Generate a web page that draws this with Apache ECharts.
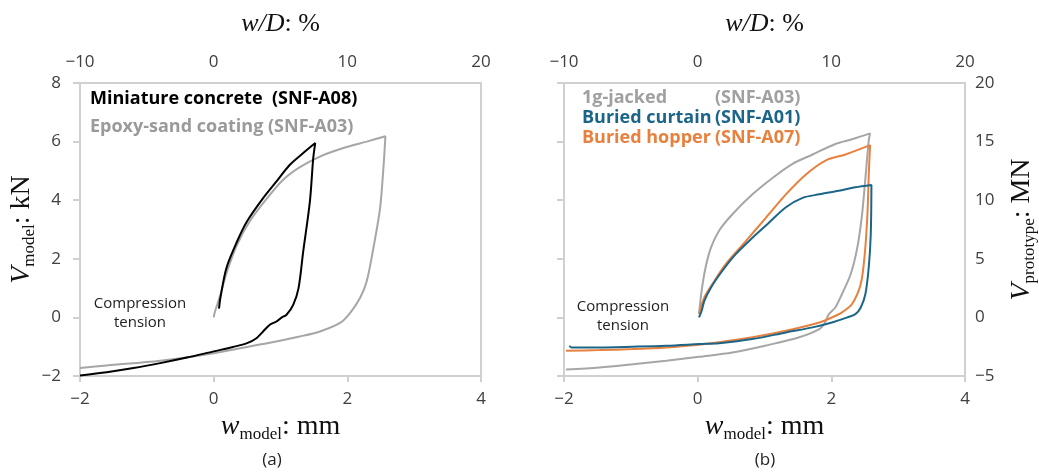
<!DOCTYPE html>
<html><head><meta charset="utf-8">
<script src="https://cdn.jsdelivr.net/npm/echarts@6/dist/echarts.min.js"></script>
<style>html,body{margin:0;padding:0;background:#fff}#c{width:1039px;height:475px}</style>
</head><body><div id="c"></div>
<script>
// Panel (a): w_model (mm), V_model (kN)
var aBlack = [[0.08,0.3],[0.1,0.66],[0.19,1.68],[0.35,2.59],[0.5,3.28],[0.74,4.07],[0.94,4.64],[1.14,5.21],[1.34,5.61],[1.52,5.95],
  [1.49,5.44],[1.44,3.96],[1.34,2.25],[1.27,1.0],[1.19,0.43],[1.09,0.09],[1.02,0.0],[0.94,-0.14],[0.84,-0.25],[0.74,-0.48],
  [0.64,-0.71],[0.5,-0.88],[0.29,-1.01],[0.0,-1.16],[-0.4,-1.37],[-0.8,-1.56],[-1.2,-1.73],[-1.6,-1.87],[-2.0,-1.98]];
var aGray = [[0.0,0.0],[0.02,0.2],[0.1,0.77],[0.2,1.57],[0.35,2.48],[0.54,3.28],[0.8,4.07],[1.04,4.7],[1.29,5.13],[1.59,5.49],
  [1.94,5.78],[2.29,6.0],[2.57,6.18],[2.54,5.1],[2.49,3.73],[2.39,2.37],[2.29,1.23],[2.19,0.66],[2.04,0.15],[1.89,-0.19],
  [1.59,-0.48],[1.29,-0.65],[0.8,-0.88],[0.0,-1.22],[-0.8,-1.48],[-1.6,-1.64],[-2.0,-1.73]];
// Panel (b): w_model (mm), V_prototype (MN)
var bGray = [[0.02,0.28],[0.06,2.3],[0.12,4.3],[0.2,5.97],[0.32,7.4],[0.52,8.8],[0.82,10.5],[1.12,11.9],[1.42,13.1],[1.72,13.9],
  [2.06,14.8],[2.31,15.2],[2.58,15.7],[2.56,15.1],[2.51,11.9],[2.46,8.8],[2.39,6.0],[2.29,3.7],[2.16,2.0],[2.06,0.85],[1.96,0.25],
  [1.9,-0.5],[1.82,-1.0],[1.52,-1.7],[1.02,-2.4],[0.52,-3.0],[0.02,-3.36],[-0.47,-3.7],[-0.97,-4.0],[-1.47,-4.27],[-1.97,-4.44]];
var bBlue = [[0.02,0.0],[0.06,0.57],[0.1,1.42],[0.2,2.56],[0.37,3.98],[0.57,5.4],[0.82,6.8],[1.07,8.1],[1.32,9.4],[1.57,10.2],
  [1.82,10.5],[2.11,10.8],[2.36,11.1],[2.6,11.3],[2.59,7.1],[2.56,4.3],[2.51,2.0],[2.44,0.85],[2.36,0.28],[2.24,0.0],[2.01,-0.43],
  [1.72,-0.85],[1.32,-1.28],[0.82,-1.85],[0.32,-2.2],[0.02,-2.28],[-0.47,-2.42],[-0.97,-2.5],[-1.47,-2.56],[-1.89,-2.56],[-1.92,-2.42]];
var bOrange = [[0.02,0.28],[0.1,1.7],[0.22,2.84],[0.42,4.55],[0.72,6.5],[1.02,8.5],[1.32,10.5],[1.62,12.2],[1.92,13.4],[2.21,13.9],
  [2.58,14.7],[2.56,12.2],[2.54,8.8],[2.5,5.4],[2.44,2.84],[2.31,1.14],[2.16,0.43],[2.01,0.0],[1.82,-0.43],[1.32,-1.14],
  [0.82,-1.7],[0.32,-2.13],[0.02,-2.33],[-0.47,-2.56],[-0.97,-2.7],[-1.47,-2.79],[-1.97,-2.84]];
var xTicksMm = [-2, 4, 2];      // min, max, interval
var xTicksPct = [-10, 20, 10];
var yTicksKN = [-2, 8, 2];
var yTicksMN = [-5, 20, 5];

var SERIF = '"Liberation Serif","Times New Roman",serif';
var SANS = '"Open Sans","Noto Sans",sans-serif';
var AX = '#d0d0d0', LBL = '#404040';
var fmt = function(v){ return String(v).replace('-', '\u2212'); };
var richName = {
  i: {fontFamily: SERIF, fontStyle: 'italic', fontSize: 28, lineHeight: 32, color: '#111', verticalAlign: 'middle'},
  n: {fontFamily: SERIF, fontSize: 28, lineHeight: 32, color: '#111', verticalAlign: 'middle'},
  s: {fontFamily: SERIF, fontSize: 17, lineHeight: 17, padding: [13,0,0,0], color: '#111', verticalAlign: 'bottom'}
};
function xBottom(g){
  return {type:'value', gridIndex:g, position:'bottom', min:xTicksMm[0], max:xTicksMm[1], interval:xTicksMm[2],
    axisLine:{show:true, onZero:false, lineStyle:{color:AX, width:2}}, axisTick:{show:true, length:6, lineStyle:{color:AX, width:2}},
    splitLine:{show:false}, axisLabel:{formatter:fmt, color:LBL, fontSize:17, fontFamily:SANS, margin:15},
    name: '{i|w}{s|model}{n|: mm}', nameLocation:'middle', nameGap:35, nameTextStyle:{rich:richName}};
}
function xTop(g){
  return {type:'value', gridIndex:g, position:'top', min:xTicksPct[0], max:xTicksPct[1], interval:xTicksPct[2],
    axisLine:{show:true, onZero:false, lineStyle:{color:AX, width:2}}, axisTick:{show:false}, splitLine:{show:false},
    axisLabel:{formatter:fmt, color:LBL, fontSize:17, fontFamily:SANS, margin:12},
    name:'{i|w}{i|/D}{n|: %}', nameLocation:'middle', nameGap:46,
    nameTextStyle:{rich:{i:{fontFamily:SERIF, fontStyle:'italic', fontSize:26, color:'#111'}, n:{fontFamily:SERIF, fontSize:26, color:'#111'}}}};
}
var option = {
  animation:false,
  backgroundColor:'#fff',
  grid:[{left:80, top:83, width:401, height:293}, {left:564, top:83, width:403, height:293}],
  xAxis:[xBottom(0), xTop(0), xBottom(1), xTop(1)],
  yAxis:[
    {type:'value', gridIndex:0, position:'left', min:yTicksKN[0], max:yTicksKN[1], interval:yTicksKN[2],
     axisLine:{show:true, onZero:false, lineStyle:{color:AX, width:2}}, axisTick:{show:true, length:7, lineStyle:{color:AX, width:2}},
     splitLine:{show:false}, axisLabel:{formatter:fmt, color:LBL, fontSize:17, fontFamily:SANS, margin:19},
     name:'{i|V}{s|model}{n|: kN}', nameLocation:'middle', nameGap:40, nameTextStyle:{rich:richName}},
    {type:'value', gridIndex:0, position:'right', min:yTicksKN[0], max:yTicksKN[1], interval:yTicksKN[2],
     axisLine:{show:true, onZero:false, lineStyle:{color:AX, width:2}}, axisTick:{show:false}, axisLabel:{show:false}, splitLine:{show:false}},
    {type:'value', gridIndex:1, position:'left', min:yTicksKN[0], max:yTicksKN[1], interval:yTicksKN[2],
     axisLine:{show:true, onZero:false, lineStyle:{color:AX, width:2}}, axisTick:{show:true, length:7, lineStyle:{color:AX, width:2}},
     axisLabel:{show:false}, splitLine:{show:false}},
    {type:'value', gridIndex:1, position:'right', min:yTicksMN[0], max:yTicksMN[1], interval:yTicksMN[2],
     axisLine:{show:true, onZero:false, lineStyle:{color:AX, width:2}}, axisTick:{show:false}, splitLine:{show:false},
     axisLabel:{formatter:fmt, color:LBL, fontSize:17, fontFamily:SANS, margin:10},
     name:'{i|V}{s|prototype}{n|: MN}', nameLocation:'middle', nameGap:41, nameTextStyle:{rich:richName}}
  ],
  series:[
    {type:'line', name:'Epoxy-sand coating (SNF-A03)', xAxisIndex:0, yAxisIndex:0, data:aGray, showSymbol:false, smooth:0.3,
     lineStyle:{color:'#a6a6a6', width:2}},
    {type:'line', name:'Miniature concrete (SNF-A08)', xAxisIndex:0, yAxisIndex:0, data:aBlack, showSymbol:false, smooth:0.3,
     lineStyle:{color:'#000', width:2}},
    {type:'line', name:'1g-jacked (SNF-A03)', xAxisIndex:2, yAxisIndex:3, data:bGray, showSymbol:false, smooth:0.3,
     lineStyle:{color:'#a6a6a6', width:2}},
    {type:'line', name:'Buried hopper (SNF-A07)', xAxisIndex:2, yAxisIndex:3, data:bOrange, showSymbol:false, smooth:0.3,
     lineStyle:{color:'#e8803e', width:2}},
    {type:'line', name:'Buried curtain (SNF-A01)', xAxisIndex:2, yAxisIndex:3, data:bBlue, showSymbol:false, smooth:0.3,
     lineStyle:{color:'#1b6688', width:2}}
  ],
  graphic:[
    {type:'text', x:90, y:99, style:{text:'Miniature concrete  (SNF-A08)', font:'bold 18px '+SANS, fill:'#000', verticalAlign:'middle'}},
    {type:'text', x:90, y:127, style:{text:'Epoxy-sand coating (SNF-A03)', font:'bold 18px '+SANS, fill:'#9a9a9a', verticalAlign:'middle'}},
    {type:'text', x:582, y:98, style:{text:'1g-jacked', font:'bold 18px '+SANS, fill:'#a0a0a0', verticalAlign:'middle'}},
    {type:'text', x:715, y:98, style:{text:'(SNF-A03)', font:'bold 18px '+SANS, fill:'#a0a0a0', verticalAlign:'middle'}},
    {type:'text', x:582, y:118, style:{text:'Buried curtain', font:'bold 18px '+SANS, fill:'#1b6688', verticalAlign:'middle'}},
    {type:'text', x:715, y:118, style:{text:'(SNF-A01)', font:'bold 18px '+SANS, fill:'#1b6688', verticalAlign:'middle'}},
    {type:'text', x:582, y:138, style:{text:'Buried hopper', font:'bold 18px '+SANS, fill:'#e8803e', verticalAlign:'middle'}},
    {type:'text', x:715, y:138, style:{text:'(SNF-A07)', font:'bold 18px '+SANS, fill:'#e8803e', verticalAlign:'middle'}},
    {type:'text', x:140, y:313, style:{text:'Compression\ntension', font:'15px '+SANS, fill:'#222', align:'center', verticalAlign:'middle', lineHeight:19}},
    {type:'text', x:623, y:316, style:{text:'Compression\ntension', font:'15px '+SANS, fill:'#222', align:'center', verticalAlign:'middle', lineHeight:19}},
    {type:'text', x:272, y:460, style:{text:'(a)', font:'17px '+SANS, fill:'#222', align:'center', verticalAlign:'middle'}},
    {type:'text', x:765, y:460, style:{text:'(b)', font:'17px '+SANS, fill:'#222', align:'center', verticalAlign:'middle'}}
  ]
};
var chart = echarts.init(document.getElementById('c'), null, {renderer:'canvas'});
chart.setOption(option);
</script></body></html>
